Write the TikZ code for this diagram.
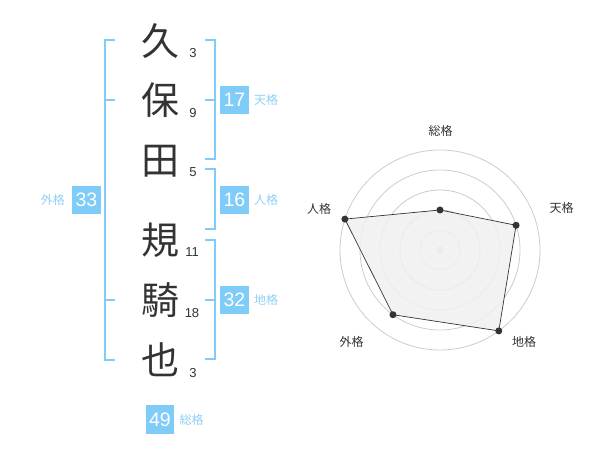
\documentclass[tikz,border=0pt]{standalone}
\usepackage{fontspec}
\setmainfont{Liberation Sans}
\newfontfamily\cjk{Noto Sans CJK JP}
\usepackage{xcolor}
\usetikzlibrary{positioning}
\definecolor{kakublue}{HTML}{80CCF8}
\definecolor{kakutext}{HTML}{8ED0F5}
\definecolor{inkgray}{HTML}{333333}
\definecolor{ringgray}{HTML}{CCCCCC}
\definecolor{radarfill}{HTML}{F0F0F0}
\tikzset{
  moji/.style={text=inkgray,inner sep=0pt,font=\cjk\fontsize{38}{38}\selectfont},
  kaku/.style={text=inkgray,inner sep=0pt,font=\fontsize{13}{13}\selectfont},
  bracket/.style={draw=kakublue,line width=2pt},
  kakubox/.style={fill=kakublue,text=white,minimum size=28.5pt,inner sep=0pt,font=\fontsize{19.5}{19.5}\selectfont},
  kakulabel/.style={text=kakutext,inner sep=0pt,font=\cjk\fontsize{12}{12}\selectfont},
  ring/.style={draw=ringgray,line width=0.8pt},
  axislabel/.style={text=inkgray,inner sep=0pt,font=\cjk\fontsize{12}{12}\selectfont}
}

\begin{document}
\begin{tikzpicture}[x=1pt,y=-1pt]
\useasboundingbox (0,0) rectangle (600,470);

\node[moji] (c1) at (160,41) {久};
\node[kaku] (n1) at (193,53) {3};
\node[moji] (c2) at (160,100) {保};
\node[kaku] (n2) at (193,113) {9};
\node[moji] (c3) at (160,161) {田};
\node[kaku] (n3) at (193,172) {5};
\node[moji] (c4) at (160,240) {規};
\node[kaku] (n4) at (192,252) {11};
\node[moji] (c5) at (160,300) {騎};
\node[kaku] (n5) at (192,313) {18};
\node[moji] (c6) at (160,360) {也};
\node[kaku] (n6) at (193,373) {3};

\draw[bracket] (115,40) -- (105,40) -- (105,360) -- (115,360);
\draw[bracket] (105,100) -- (115,100);
\draw[bracket] (105,300) -- (115,300);
\node[kakubox] (gaibox) at (86.5,200) {33};
\node[kakulabel,left=7pt of gaibox] (gai) {外格};

\draw[bracket] (205,40) -- (215,40) -- (215,159) -- (205,159);
\draw[bracket] (205,100) -- (215,100);
\node[kakubox] (tenbox) at (234.5,100) {17};
\node[kakulabel,right=5pt of tenbox] (ten) {天格};

\draw[bracket] (205,169) -- (215,169) -- (215,229) -- (205,229);
\node[kakubox] (jinbox) at (234.5,200) {16};
\node[kakulabel,right=5pt of jinbox] (jin) {人格};

\draw[bracket] (205,240) -- (215,240) -- (215,359) -- (205,359);
\draw[bracket] (205,300) -- (215,300);
\node[kakubox] (chibox) at (234.5,300) {32};
\node[kakulabel,right=5pt of chibox] (chi) {地格};

\node[kakubox] (soubox) at (160,419.5) {49};
\node[kakulabel,right=5pt of soubox] (sou) {総格};

\coordinate (o) at (440,250);
\foreach \r in {20,40,60,80,100}
  \draw[ring] (o) circle[radius=\r pt];
\fill[ringgray] (o) circle[radius=3.5pt];

\path (o) ++(-90:40) coordinate (psou);
\path (o) ++(-18:80) coordinate (pten);
\path (o) ++(54:100) coordinate (pchi);
\path (o) ++(126:80) coordinate (pgai);
\path (o) ++(198:100) coordinate (pjin);
\filldraw[fill=radarfill,fill opacity=0.85,draw=inkgray,line width=0.7pt]
  (psou) -- (pten) -- (pchi) -- (pgai) -- (pjin) -- cycle;
\foreach \p in {psou,pten,pchi,pgai,pjin}
  \fill[inkgray] (\p) circle[radius=3.5pt];

\node[axislabel] (rsou) at (440.7,130.7) {総格};
\node[axislabel] (rten) at (561.7,208) {天格};
\node[axislabel] (rchi) at (524,341.7) {地格};
\node[axislabel] (rgai) at (351.7,342) {外格};
\node[axislabel] (rjin) at (319,209) {人格};
\end{tikzpicture}
\end{document}
